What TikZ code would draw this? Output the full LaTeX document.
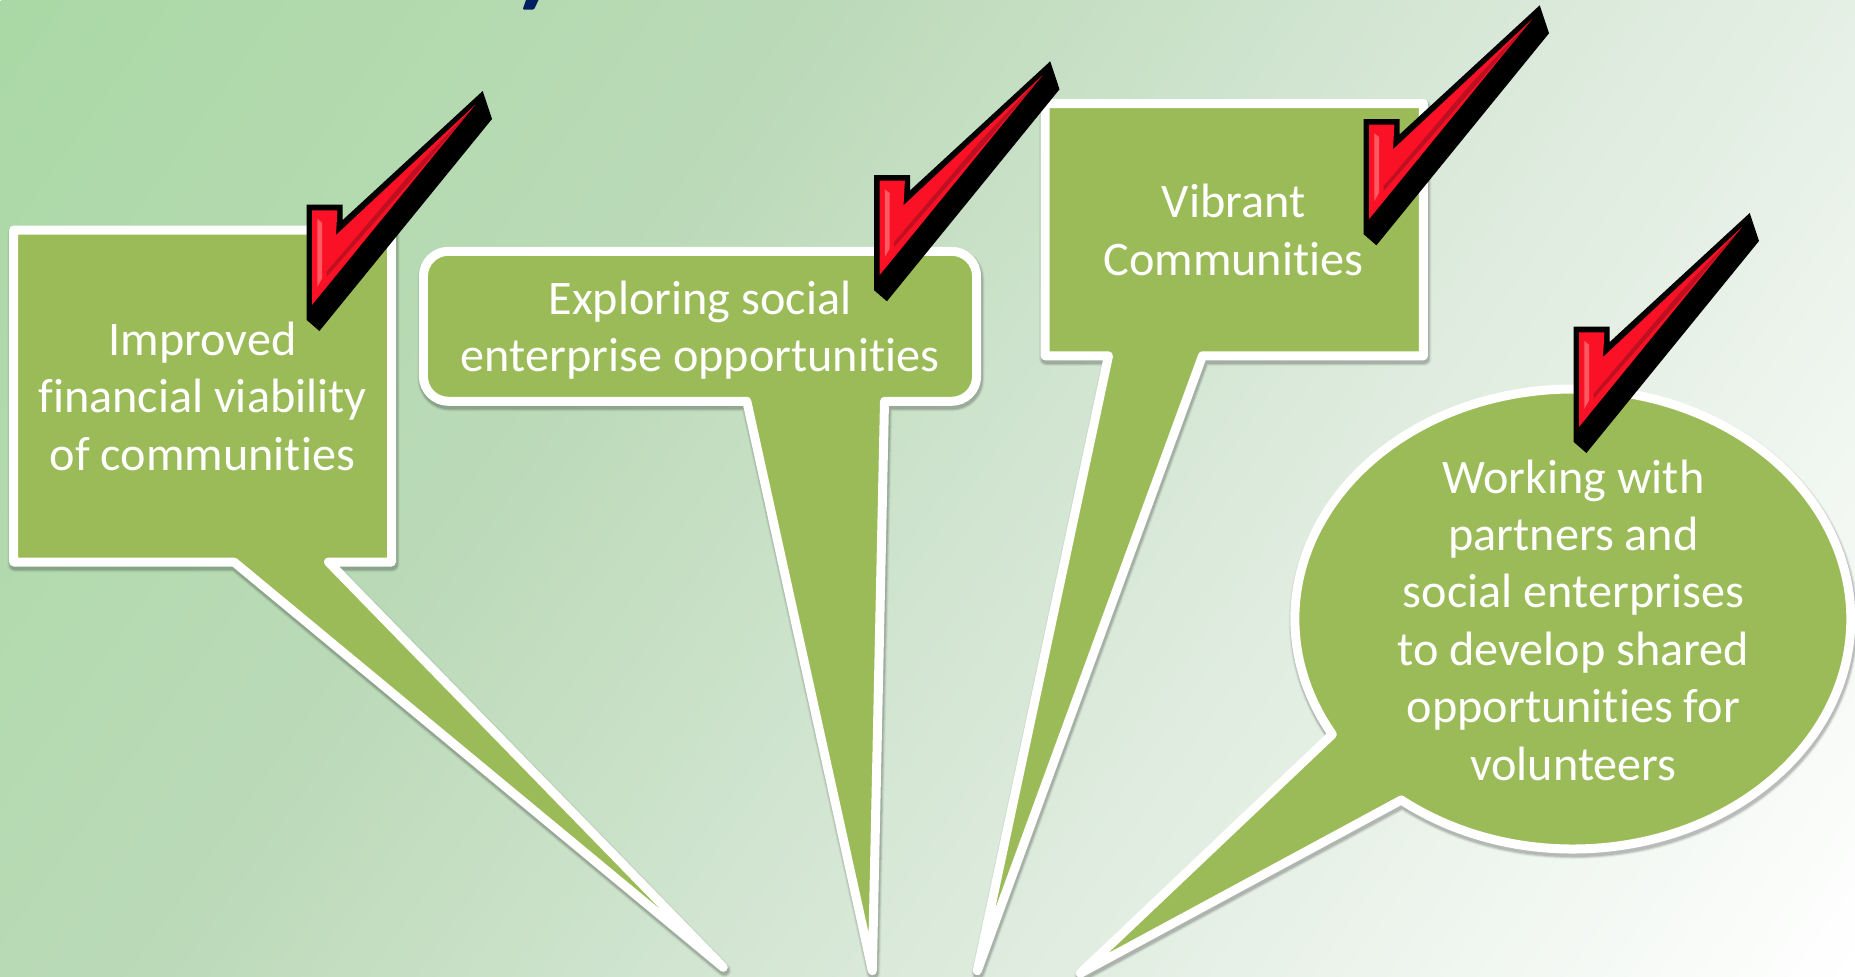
\documentclass[tikz,border=0pt]{standalone}
\usepackage{fontspec}
\setmainfont[Ligatures=NoCommon]{Carlito}
\definecolor{callgreen}{HTML}{9BBB59}
\definecolor{tickred}{HTML}{FB1125}
\definecolor{tickpink}{HTML}{FF5A62}
\definecolor{tickdark}{HTML}{BE1020}
\definecolor{titlenavy}{HTML}{002060}
\definecolor{bgA}{HTML}{AAD9A5}
\definecolor{bgB}{HTML}{BBDAB8}
\definecolor{bgC}{HTML}{DAE9DA}
\definecolor{bgD}{HTML}{FFFFFF}
\pgfdeclarehorizontalshading{bggrad}{3000bp}{
  color(0bp)=(bgA);
  color(680bp)=(bgB);
  color(1270bp)=(bgC);
  color(2072bp)=(bgD)}
\newcommand\calloutOne{(13.7,230) -- (391.5,230) -- (391.5,562) -- (328.5,562) -- (723.3,967.3) -- (234,562) -- (13.7,562) -- cycle}
\newcommand\calloutTwo{(448.4,251.3) -- (951.6,251.3) arc[start angle=-90,end angle=0,radius=25] -- (976.6,376.3) arc[start angle=0,end angle=90,radius=25] -- (884.5,401.3) -- (872.3,970.7) -- (746.8,401.3) -- (448.4,401.3) arc[start angle=90,end angle=180,radius=25] -- (423.4,276.3) arc[start angle=180,end angle=270,radius=25] -- cycle}
\newcommand\calloutThree{(1045,103.5) -- (1423.4,103.5) -- (1423.4,355.8) -- (1202.5,355.8) -- (977.3,970.7) -- (1108.5,355.8) -- (1045,355.8) -- cycle}
\newcommand\calloutFour{(1401.3,800) arc[start angle=128.1,end angle=-210.1,x radius=278,y radius=230] -- (1080.3,973.3) -- cycle}
\tikzset{
  x=1pt,y=-1pt,
  callshape/.style={draw=white,fill=callgreen,line width=9pt,line join=round},
  shadowa/.style={draw=black,opacity=.05,line width=14pt,line join=round,shift={(1,3)}},
  shadowb/.style={draw=black,opacity=.09,line width=12pt,line join=round,shift={(1,3)}},
  shadowc/.style={draw=black,opacity=.12,line width=10pt,line join=round,shift={(1,3)}},
  calltext/.style={text=white,align=center,inner sep=0pt,anchor=base,font=\fontsize{48.2}{57.4}\selectfont},
  tickmark/.pic={
    \fill[black] (0,0) -- (36,0) -- (36,15.3) -- (176,-113.7) -- (185.3,-85.7) -- (12.7,126.3) -- (0,115.3) -- cycle;
    \fill[tickred] (5.3,5.7) -- (30.7,5.7) -- (29.3,30.3) -- (168.3,-99.7) -- (5.3,100.3) -- cycle;
    \fill[tickpink] (10.7,14.3) -- (15.3,18) -- (15.3,73.7) -- (10.7,82) -- cycle;
    \fill[tickdark] (20,67) -- (106.7,-34.7) -- (167.7,-99) -- (113.3,-34.7) -- (20,72) -- cycle;
  }
}
\begin{document}
\begin{tikzpicture}
\useasboundingbox (0,0) rectangle (1855,977);
\begin{scope}
  \clip (0,0) rectangle (1855,977);
  \node[inner sep=0pt,rotate=-35] (bg) at (927.5,488.5) {\pgfuseshading{bggrad}};
\end{scope}
\fill[titlenavy] (526,0) -- (538.5,0) -- (534.5,8.5) -- (532.5,9.7) -- (524,9.7) -- (523,8.5) -- cycle;
\draw[shadowa] \calloutOne; \draw[shadowb] \calloutOne; \draw[shadowc] \calloutOne;
\draw[callshape] \calloutOne;
\draw[shadowa] \calloutTwo; \draw[shadowb] \calloutTwo; \draw[shadowc] \calloutTwo;
\draw[callshape] \calloutTwo;
\draw[shadowa] \calloutThree; \draw[shadowb] \calloutThree; \draw[shadowc] \calloutThree;
\draw[callshape] \calloutThree;
\draw[shadowa] \calloutFour; \draw[shadowb] \calloutFour; \draw[shadowc] \calloutFour;
\draw[callshape] \calloutFour;
\node[calltext] (t1) at (202.5,470) {Improved\\financial viability\\of communities};
\node[calltext] (t2) at (700,371.7) {Exploring social\\enterprise opportunities};
\node[calltext] (t3) at (1233.5,275) {Vibrant\\Communities};
\node[calltext] (t4) at (1573.4,780) {Working with\\partners and\\social enterprises\\to develop shared\\opportunities for\\volunteers};
\pic at (306.7,204.7) {tickmark};
\pic at (874.2,175) {tickmark};
\pic at (1363.7,119) {tickmark};
\pic at (1573.7,326.7) {tickmark};
\end{tikzpicture}
\end{document}
